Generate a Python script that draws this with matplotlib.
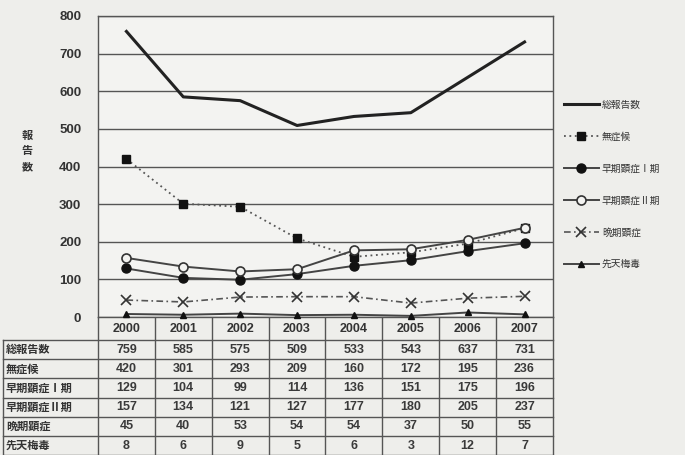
import matplotlib
matplotlib.use("Agg")
import matplotlib.pyplot as plt
import numpy as np

years = ["2000", "2001", "2002", "2003", "2004", "2005", "2006", "2007"]
series_names = ["総報告数", "無症候", "早期顕症Ⅰ期", "早期顕症Ⅱ期", "晩期顕症", "先天梅毒"]
total = [759, 585, 575, 509, 533, 543, 637, 731]
asymptomatic = [420, 301, 293, 209, 160, 172, 195, 236]
early1 = [129, 104, 99, 114, 136, 151, 175, 196]
early2 = [157, 134, 121, 127, 177, 180, 205, 237]
late = [45, 40, 53, 54, 54, 37, 50, 55]
congenital = [8, 6, 9, 5, 6, 3, 12, 7]
yticks = [0, 100, 200, 300, 400, 500, 600, 700, 800]
ylabel = "報\n告\n数"

values = [total, asymptomatic, early1, early2, late, congenital]

JP = ["Noto Sans CJK JP", "DejaVu Sans"]
NUM = ["Liberation Sans", "DejaVu Sans"]
plt.rcParams["font.family"] = JP

W, H = 685, 455
fig = plt.figure(figsize=(W / 100, H / 100), dpi=100)
bg = "#eeeeeb"
fig.patch.set_facecolor(bg)

L, R, T, B = 98, 553, 16, 317
ax = fig.add_axes([L / W, 1 - B / H, (R - L) / W, (B - T) / H])
ax.set_facecolor("#f3f3f1")
x = np.arange(len(years)) + 0.5
ax.set_xlim(0, len(years))
ax.set_ylim(0, 800)
ax.set_yticks(yticks)
ax.set_yticklabels([str(t) for t in yticks], fontfamily=NUM, fontsize=9.5,
                   fontweight="bold", color="#333333")
ax.tick_params(axis="y", length=0, pad=12)
ax.set_xticks([])
for s in ax.spines.values():
    s.set_color("#555555")
    s.set_linewidth(1.0)
ax.yaxis.grid(True, color="#555555", linewidth=1.0)
ax.set_axisbelow(True)

styles = [
    dict(color="#222222", linestyle="-", linewidth=2.2, marker=None),
    dict(color="#555555", linestyle=(0, (1, 2)), linewidth=1.3, marker="s",
         markersize=5.5, markerfacecolor="#111111", markeredgecolor="#111111"),
    dict(color="#444444", linestyle="-", linewidth=1.4, marker="o",
         markersize=6.5, markerfacecolor="#111111", markeredgecolor="#111111"),
    dict(color="#444444", linestyle="-", linewidth=1.4, marker="o",
         markersize=6.5, markerfacecolor="#f3f3f1", markeredgecolor="#333333",
         markeredgewidth=1.2),
    dict(color="#555555", linestyle=(0, (4, 2, 1, 2)), linewidth=1.2, marker="x",
         markersize=6.5, markeredgecolor="#333333", markeredgewidth=1.2),
    dict(color="#444444", linestyle="-", linewidth=1.4, marker="^",
         markersize=5, markerfacecolor="#111111", markeredgecolor="#111111"),
]
handles = []
for name, vals, st in zip(series_names, values, styles):
    ln, = ax.plot(x, vals, label=name, clip_on=False, zorder=3, **st)
    handles.append(ln)

fig.text(27 / W, 1 - 151 / H, ylabel, fontsize=8, fontweight="bold",
         color="#333333", ha="center", va="center", linespacing=1.25)

# legend
leg = fig.legend(handles=handles, labels=series_names, loc="upper left",
                 bbox_to_anchor=(560 / W, 1 - 96 / H), frameon=False,
                 fontsize=7, handlelength=3.6, labelspacing=2.25,
                 handletextpad=0.3, borderaxespad=0)
for t in leg.get_texts():
    t.set_color("#333333")

# table overlay
tab = fig.add_axes([0, 0, 1, 1], zorder=-1)
tab.set_xlim(0, W)
tab.set_ylim(H, 0)
tab.axis("off")
ncol = len(years)
cw = (R - L) / ncol
header_top, header_bot = B, 340
rh = 19.2
line_kw = dict(color="#555555", linewidth=1.0)
for i, yr in enumerate(years):
    cx = L + (i + 0.5) * cw
    tab.text(cx, (header_top + header_bot) / 2 + 1, yr, ha="center", va="center",
             fontfamily=NUM, fontsize=9, fontweight="bold", color="#333333")
bottom = header_bot + rh * len(series_names)
for i in range(ncol + 1):
    tab.plot([L + i * cw] * 2, [header_top, bottom], **line_kw)
tab.plot([3, 3], [header_bot, bottom], **line_kw)
for r in range(len(series_names) + 1):
    yy = header_bot + r * rh
    tab.plot([3, R], [yy, yy], **line_kw)
for r, (name, vals) in enumerate(zip(series_names, values)):
    cy = header_bot + (r + 0.5) * rh
    tab.text(6, cy, name, ha="left", va="center", fontsize=8,
             fontweight="bold", color="#333333")
    for i, v in enumerate(vals):
        tab.text(L + (i + 0.5) * cw, cy, str(v), ha="center", va="center",
                 fontfamily=NUM, fontsize=9, fontweight="bold", color="#3a3a3a")

fig.savefig("out.png", dpi=100, facecolor=bg)
